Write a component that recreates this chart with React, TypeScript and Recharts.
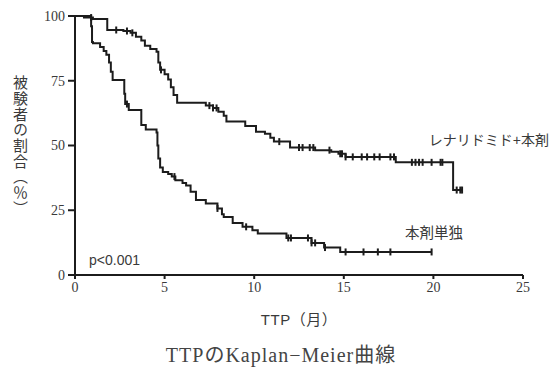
import { ComposedChart, Line, Scatter, XAxis, YAxis } from "recharts";

// レナリドミド+本剤: step points [month, %]
const comboX = [0, 0.5, 1.0, 1.8, 2.7, 3.1, 3.4, 3.7, 3.9, 4.2, 4.55, 4.65, 4.75, 5.0, 5.2, 5.35, 5.5, 5.7, 7.3, 7.7, 8.0, 8.3, 8.45, 9.5, 10.1, 10.6, 10.9, 11.1, 12.0, 13.4, 14.3, 14.7, 15.1, 17.9, 21.1, 21.6];
const comboY = [100, 99.4, 98.8, 94.6, 94.2, 93.5, 92.0, 90.5, 88.5, 87.3, 86.2, 82, 79.2, 77.5, 75.5, 72.5, 69.5, 66.5, 65.4, 64.5, 63, 61.5, 59.3, 57.5, 55.3, 54.5, 53, 51.5, 49.2, 48.2, 47.6, 46.8, 45.6, 43.5, 32.8, 32.8];
const comboCensor = [0.9, 2.3, 2.9, 3.2, 4.8, 7.5, 7.7, 7.9, 11.4, 12.5, 12.7, 13.1, 13.3, 14.2, 14.8, 14.9, 15.1, 15.5, 16.0, 16.3, 16.7, 17.0, 17.6, 17.8, 18.8, 19.0, 19.2, 19.4, 19.9, 20.4, 20.5, 21.3, 21.5, 21.6];

// 本剤単独
const monoX = [0, 0.9, 0.95, 1.0, 1.4, 1.6, 1.75, 1.9, 2.0, 2.1, 2.75, 2.8, 3.0, 3.7, 3.95, 4.55, 4.6, 4.65, 4.75, 4.9, 5.2, 5.4, 5.6, 6.0, 6.2, 6.45, 6.75, 7.3, 7.95, 8.2, 8.3, 8.8, 9.35, 9.9, 10.2, 11.8, 13.2, 13.9, 14.8, 19.9];
const monoY = [100, 96, 90, 89.5, 88, 86.5, 85, 82, 78.5, 75.3, 70, 66, 63.7, 57.9, 56.2, 55, 50, 45, 41.5, 39.8, 39, 38, 36.6, 35.5, 34.6, 32.1, 29, 27.6, 25.7, 23.5, 22.4, 20.1, 18.6, 17.3, 16.0, 14.3, 12.4, 10.6, 8.9, 8.9];
const monoCensor = [2.9, 5.55, 7.95, 9.55, 11.9, 12.05, 13.0, 13.2, 13.4, 13.95, 15.1, 16.1, 16.9, 17.6, 19.9];

const xTicks = [0, 5, 10, 15, 20, 25];
const yTicks = [0, 25, 50, 75, 100];

const toPoints = (xs: number[], ys: number[]) => xs.map((x, i) => ({ x, y: ys[i] }));
const stepAt = (xs: number[], ys: number[], x: number) => {
  let y = ys[0];
  xs.forEach((v, i) => {
    if (v <= x) y = ys[i];
  });
  return y;
};

const comboData = toPoints(comboX, comboY);
const monoData = toPoints(monoX, monoY);
const comboMarks = comboCensor.map((x) => ({ x, y: stepAt(comboX, comboY, x) }));
const monoMarks = monoCensor.map((x) => ({ x, y: stepAt(monoX, monoY, x) }));

const INK = "#1c1c1c";
const TEXT = "#3a3a3a";
const SANS = "'Liberation Sans', 'Noto Sans CJK JP', sans-serif";
const SERIF = "'Liberation Serif', 'Noto Sans CJK JP', serif";

const CensorTick = (props: any) => {
  const { cx, cy } = props;
  if (cx == null || cy == null) return null;
  return <line x1={cx} x2={cx} y1={cy - 3.5} y2={cy + 3.5} stroke={INK} strokeWidth={2} />;
};

export default function App() {
  return (
    <div
      style={{
        position: "absolute",
        left: 0,
        top: 0,
        width: 552,
        height: 369,
        background: "#fff",
        overflow: "hidden",
      }}
    >
      <ComposedChart
        width={552}
        height={369}
        margin={{ top: 16, right: 29, bottom: 64, left: 35 }}
      >
        <XAxis
          type="number"
          dataKey="x"
          domain={[0, 25]}
          ticks={xTicks}
          height={30}
          tickSize={4}
          tickMargin={3}
          axisLine={{ stroke: INK, strokeWidth: 2 }}
          tickLine={{ stroke: INK, strokeWidth: 2 }}
          tick={{ fontFamily: SERIF, fontSize: 14, fill: TEXT }}
          allowDataOverflow
        />
        <YAxis
          type="number"
          domain={[0, 100]}
          ticks={yTicks}
          width={40}
          tickSize={7}
          tickMargin={3}
          axisLine={{ stroke: INK, strokeWidth: 2 }}
          tickLine={{ stroke: INK, strokeWidth: 2 }}
          tick={{ fontFamily: SERIF, fontSize: 14, fill: TEXT }}
        />
        <Line
          data={comboData}
          dataKey="y"
          type="stepAfter"
          stroke={INK}
          strokeWidth={2}
          dot={false}
          isAnimationActive={false}
        />
        <Line
          data={monoData}
          dataKey="y"
          type="stepAfter"
          stroke={INK}
          strokeWidth={2}
          dot={false}
          isAnimationActive={false}
        />
        <Scatter data={comboMarks} dataKey="y" shape={<CensorTick />} isAnimationActive={false} />
        <Scatter data={monoMarks} dataKey="y" shape={<CensorTick />} isAnimationActive={false} />
      </ComposedChart>

      <div
        style={{
          position: "absolute",
          left: 12,
          top: 75,
          writingMode: "vertical-rl",
          fontFamily: "'Noto Sans CJK JP', sans-serif",
          fontSize: 15,
          letterSpacing: 0.7,
          color: TEXT,
          lineHeight: "16px",
        }}
      >
        被験者の割合（％）
      </div>
      <div style={{ position: "absolute", left: 89, top: 252, fontFamily: SANS, fontSize: 14, color: TEXT, lineHeight: "16px" }}>
        p&lt;0.001
      </div>
      <div style={{ position: "absolute", right: 3, top: 131, fontFamily: SANS, fontSize: 14, color: TEXT, lineHeight: "18px" }}>
        レナリドミド+本剤
      </div>
      <div style={{ position: "absolute", left: 405, top: 224, fontFamily: SANS, fontSize: 14.5, color: TEXT, lineHeight: "18px" }}>
        本剤単独
      </div>
      <div
        style={{
          position: "absolute",
          left: 75,
          width: 448,
          top: 311,
          textAlign: "center",
          fontFamily: SANS,
          fontSize: 15,
          letterSpacing: 0.5,
          color: TEXT,
          lineHeight: "18px",
        }}
      >
        TTP（月）
      </div>
      <div
        style={{
          position: "absolute",
          left: 10,
          width: 542,
          top: 343,
          textAlign: "center",
          fontFamily: SERIF,
          fontSize: 20,
          letterSpacing: 1,
          color: "#444",
          lineHeight: "24px",
        }}
      >
        TTPのKaplan−Meier曲線
      </div>
    </div>
  );
}
